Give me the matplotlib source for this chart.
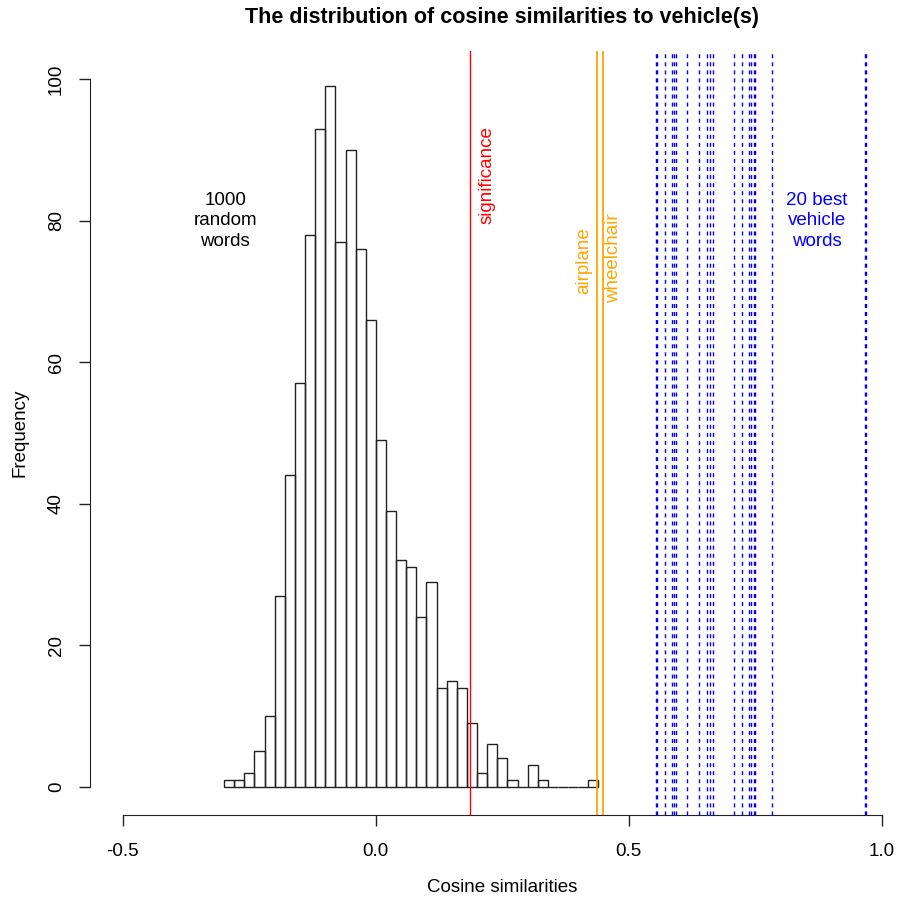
import matplotlib
matplotlib.use("Agg")
import matplotlib.pyplot as plt
import numpy as np

plt.rcParams['font.family'] = ['Liberation Sans', 'DejaVu Sans']

# histogram of 1000 random words (bin width 0.02, starting at -0.30)
bin_start = -0.30
bin_width = 0.02
counts = [1, 1, 2, 5, 10, 27, 44, 57, 78, 93,
          99, 77, 90, 76, 66, 49, 39, 32, 31, 24,
          29, 14, 15, 14, 9, 2, 6, 4, 1, 0,
          3, 1, 0, 0, 0, 0, 1]

significance = 0.187
orange_words = ['airplane', 'wheelchair']
orange_vals = [0.437, 0.448]

# similarities of the 20 best vehicle words
best_vals = [0.553, 0.556, 0.572, 0.586, 0.589, 0.594, 0.614, 0.638, 0.655, 0.660,
             0.666, 0.707, 0.723, 0.737, 0.741, 0.747, 0.749, 0.783, 0.967, 0.969]

W, H = 897, 902
fig = plt.figure(figsize=(W / 100, H / 100), dpi=100)
ax = fig.add_axes([90 / W, (H - 815) / H, 1 - 90 / W, (815 - 51) / H])

edges = bin_start + bin_width * np.arange(len(counts))
ax.bar(edges, counts, width=bin_width, align='edge', fill=False,
       edgecolor='#222222', linewidth=1.0)

ax.axvline(significance, color='red', linewidth=1.0)
for v in orange_vals:
    ax.axvline(v, color='orange', linewidth=1.3)
for v in best_vals:
    ax.axvline(v, color='blue', linewidth=1.0, linestyle=(0, (2.9, 2.9)))

ax.set_xlim(-0.565, 1.03)
ax.set_ylim(-4, 104)

for s in ['top', 'right']:
    ax.spines[s].set_visible(False)
ax.spines['left'].set_bounds(0, 100)
ax.spines['bottom'].set_bounds(-0.5, 1.0)
ax.spines['left'].set_color('#222222')
ax.spines['bottom'].set_color('#222222')

ax.set_xticks([-0.5, 0.0, 0.5, 1.0])
ax.set_xticklabels(['-0.5', '0.0', '0.5', '1.0'])
ax.set_yticks([0, 20, 40, 60, 80, 100])
ax.tick_params(axis='both', direction='out', length=8, width=1, color='#222222',
               labelsize=13.5)
ax.tick_params(axis='x', pad=12)
ax.tick_params(axis='y', pad=10)
for lab in ax.get_yticklabels():
    lab.set_rotation(90)
    lab.set_va('center')

txt = dict(fontsize=13.5, ha='center', va='center')
ax.text(-0.298, 80, '1000\nrandom\nwords', color='black', linespacing=1.25, **txt)
ax.text(0.219, 86.4, 'significance', color='red', rotation=90, **txt)
ax.text(0.411, 74.4, orange_words[0], color='orange', rotation=90, **txt)
ax.text(0.470, 74.7, orange_words[1], color='orange', rotation=90, **txt)
ax.text(0.872, 80, '20 best\nvehicle\nwords', color='blue', linespacing=1.25, **txt)

fig.text(502 / W, 1 - 18 / H, 'The distribution of cosine similarities to vehicle(s)',
         ha='center', va='center', fontsize=15.5, fontweight='bold')
fig.text(502 / W, 1 - 888 / H, 'Cosine similarities', ha='center', va='center',
         fontsize=13.5)
fig.text(20 / W, 1 - 433 / H, 'Frequency', ha='center', va='center', rotation=90,
         fontsize=13.5)

fig.savefig('out.png', dpi=100)
